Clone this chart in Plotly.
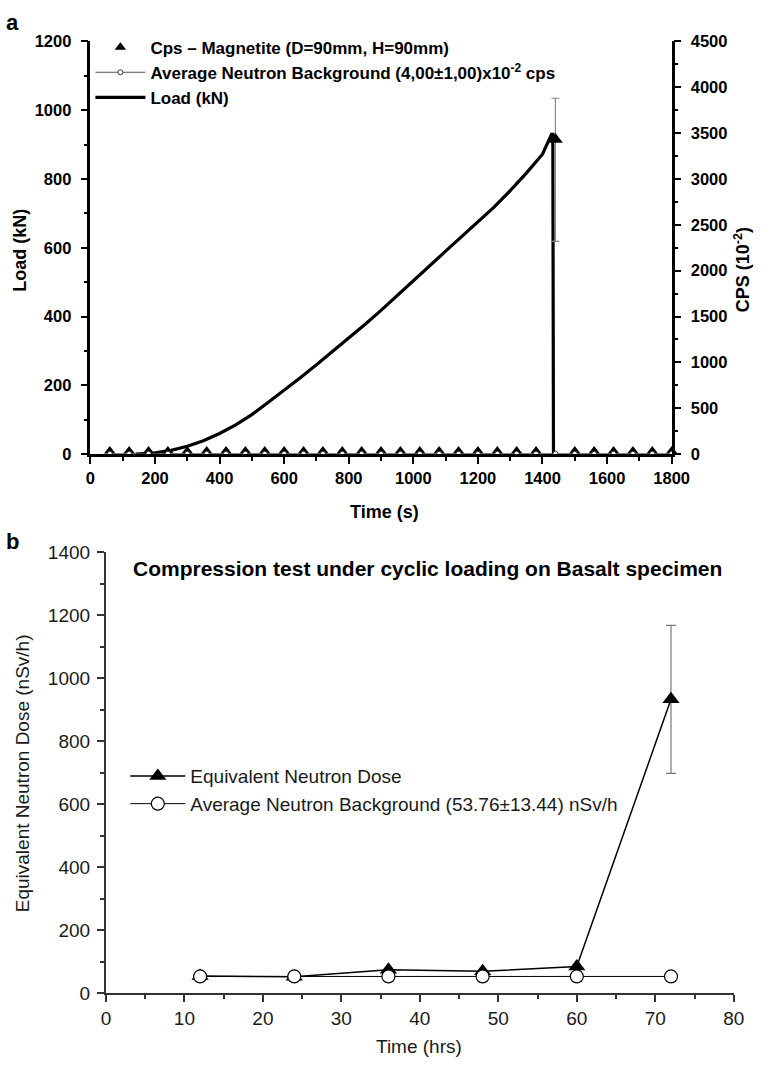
import plotly.graph_objects as go

# ---------------- Panel a data ----------------
load_time = [140, 200, 250, 300, 350, 400, 450, 500, 550, 600, 650, 700, 750, 800, 850,
             900, 950, 1000, 1050, 1100, 1150, 1200, 1250, 1300, 1350, 1400, 1428, 1432, 1434]
load_kn = [0, 4, 11, 23, 39, 60, 85, 115, 150, 185, 222, 260, 298, 337, 377,
           418, 460, 503, 547, 590, 633, 675, 718, 766, 817, 872, 930, 930, 0]

cps_time = [60, 120, 180, 240, 300, 360, 420, 480, 540, 600, 660, 720, 780, 840, 900,
            960, 1020, 1080, 1140, 1200, 1260, 1320, 1380, 1440, 1500, 1560, 1620, 1680, 1740, 1800]
cps_value = [35] * 23 + [3430] + [35] * 6
cps_err_plus = [0] * 23 + [450] + [0] * 6
cps_err_minus = [0] * 23 + [1110] + [0] * 6

bg_a_time = cps_time
bg_a_value = [4] * 30

# ---------------- Panel b data ----------------
dose_time = [12, 24, 36, 48, 60, 72]
dose_value = [55, 53, 75, 70, 85, 933]
dose_err = [0, 0, 0, 0, 0, 235]

bg_b_time = [12, 24, 36, 48, 60, 72]
bg_b_value = [53.76] * 6
bg_b_err = [13.44] * 6

W, H = 777, 1074
def px(x):
    return x / W
def py(y):
    return 1 - y / H

BOLD = dict(family="Liberation Sans, Arial", color="black", weight="bold")
REG = dict(family="Liberation Sans, Arial", color="#1a1a1a")

pk = cps_value.index(max(cps_value))

fig = go.Figure()

# panel a
fig.add_trace(go.Scatter(
    x=cps_time, y=cps_value, xaxis="x", yaxis="y2", mode="markers",
    name="Cps \u2013 Magnetite (D=90mm, H=90mm)", legend="legend",
    marker=dict(symbol="triangle-up", color="black", size=10),
    cliponaxis=False,
))
fig.add_trace(go.Scatter(
    x=[cps_time[pk]], y=[cps_value[pk]], xaxis="x", yaxis="y2", mode="markers",
    showlegend=False, legend="legend",
    marker=dict(symbol="triangle-up", color="black", size=13),
    error_y=dict(type="data", symmetric=False, array=[cps_err_plus[pk]],
                 arrayminus=[cps_err_minus[pk]], color="#888888", thickness=1.2, width=4),
    cliponaxis=False,
))
fig.add_trace(go.Scatter(
    x=bg_a_time, y=bg_a_value, xaxis="x", yaxis="y2", mode="lines+markers",
    name="Average Neutron Background (4,00\u00b11,00)x10<sup>-2</sup> cps", legend="legend",
    line=dict(color="#555555", width=1),
    marker=dict(symbol="circle", color="white", size=5, line=dict(color="#333333", width=1)),
    cliponaxis=False,
))
fig.add_trace(go.Scatter(
    x=load_time, y=load_kn, xaxis="x", yaxis="y", mode="lines",
    name="Load (kN)", legend="legend",
    line=dict(color="black", width=3.2),
    cliponaxis=False,
))

# panel b
fig.add_trace(go.Scatter(
    x=dose_time, y=dose_value, xaxis="x2", yaxis="y3", mode="lines+markers",
    name="Equivalent Neutron Dose", legend="legend2",
    line=dict(color="black", width=1.5),
    marker=dict(symbol="triangle-up", color="black", size=15),
    error_y=dict(type="data", array=dose_err, color="#777777", thickness=1.2, width=5),
    cliponaxis=False,
))
fig.add_trace(go.Scatter(
    x=bg_b_time, y=bg_b_value, xaxis="x2", yaxis="y3", mode="lines+markers",
    name="Average Neutron Background (53.76\u00b113.44) nSv/h", legend="legend2",
    line=dict(color="black", width=1),
    marker=dict(symbol="circle", color="white", size=13, line=dict(color="black", width=1.2)),
    error_y=dict(type="data", array=bg_b_err, color="#555555", thickness=1, width=2),
    cliponaxis=False,
))

axa = dict(showgrid=False, zeroline=False, showline=True, linecolor="black", linewidth=2.5,
           ticks="outside", ticklen=7, tickwidth=2, tickcolor="black",
           tickfont=dict(size=16.5, **BOLD))
axb = dict(showgrid=False, zeroline=False, showline=True, linecolor="#333333", linewidth=2,
           ticks="outside", ticklen=7, tickwidth=1.5, tickcolor="#333333",
           tickfont=dict(size=19, **REG))

fig.update_layout(
    width=W, height=H, autosize=False,
    margin=dict(l=0, r=0, t=0, b=0),
    paper_bgcolor="white", plot_bgcolor="white",
    xaxis=dict(axa, domain=[px(88), px(687)], range=[0, 1800], dtick=200, anchor="y",
               minor=dict(dtick=100, ticks="outside", ticklen=4, tickwidth=2, tickcolor="black")),
    yaxis=dict(axa, domain=[py(453), py(32)], range=[0, 1200], dtick=200, anchor="x",
               ticklabelstandoff=6,
               minor=dict(dtick=100, ticks="outside", ticklen=4, tickwidth=2, tickcolor="black")),
    yaxis2=dict(axa, overlaying="y", side="right", anchor="x", range=[0, 4500], dtick=500,
                ticklabelstandoff=6,
                minor=dict(dtick=250, ticks="outside", ticklen=4, tickwidth=2, tickcolor="black")),
    xaxis2=dict(axb, domain=[px(104), px(751)], range=[0, 80], dtick=10, anchor="y3",
                minor=dict(dtick=5, ticks="outside", ticklen=4, tickwidth=1.5, tickcolor="#333333")),
    yaxis3=dict(axb, domain=[py(1003), py(553)], range=[0, 1400], dtick=200, anchor="x2",
                ticklabelstandoff=3,
                minor=dict(dtick=100, ticks="outside", ticklen=4, tickwidth=1.5, tickcolor="#333333")),
    legend=dict(x=px(88), y=py(20), xanchor="left", yanchor="top",
                font=dict(size=17, **BOLD), itemwidth=50, bgcolor="rgba(0,0,0,0)",
                tracegroupgap=0),
    legend2=dict(x=px(124), y=py(762), xanchor="left", yanchor="top",
                 font=dict(size=19, **REG), itemwidth=55, bgcolor="rgba(0,0,0,0)",
                 tracegroupgap=0),
    showlegend=True,
)

ann = [
    dict(text="a", x=px(8), y=py(13), font=dict(size=22, **BOLD)),
    dict(text="b", x=px(8), y=py(542), font=dict(size=22, **BOLD)),
    dict(text="Load (kN)", x=px(16), y=py(245), textangle=-90, font=dict(size=18, **BOLD)),
    dict(text="CPS (10<sup>-2</sup>)", x=px(760), y=py(265), textangle=-90, font=dict(size=18, **BOLD)),
    dict(text="Time (s)", x=px(391), y=py(512), font=dict(size=18, **BOLD)),
    dict(text="Compression test under cyclic loading on Basalt specimen", x=px(130), y=py(570),
         xanchor="left", font=dict(size=21, **BOLD)),
    dict(text="Equivalent Neutron Dose (nSv/h)", x=px(18), y=py(778), textangle=-90,
         font=dict(size=19, **REG)),
    dict(text="Time (hrs)", x=px(427), y=py(1057), font=dict(size=19, **REG)),
]
for a in ann:
    a.setdefault("xanchor", "center")
    a.update(xref="paper", yref="paper", showarrow=False, yanchor="middle")
fig.update_layout(annotations=ann)

fig.write_html("out.html")
